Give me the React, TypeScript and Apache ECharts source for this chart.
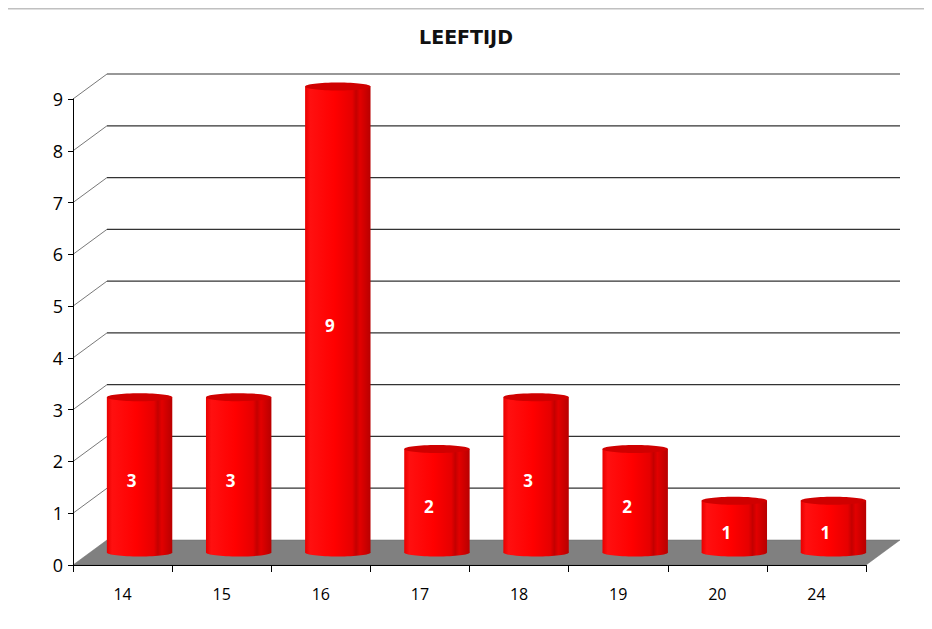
import React, { useEffect, useRef } from "react";
import * as echarts from "echarts";

const categories = ["14", "15", "16", "17", "18", "19", "20", "24"];
const counts = [3, 3, 9, 2, 3, 2, 1, 1];
const yTicks = [0, 1, 2, 3, 4, 5, 6, 7, 8, 9];
const chartTitle = "LEEFTIJD";

const DX = 34;
const DY = 25;
const FONT = "'Open Sans', 'DejaVu Sans', sans-serif";

export default function App() {
  const ref = useRef<HTMLDivElement>(null);
  useEffect(() => {
    if (!ref.current) return;
    const chart = echarts.init(ref.current, null, { renderer: "svg" });
    const n = categories.length;
    const option: any = {
      animation: false,
      backgroundColor: "#ffffff",
      title: {
        text: chartTitle,
        left: "center",
        top: 22,
        textStyle: { fontFamily: "'DejaVu Sans', sans-serif", fontSize: 19, fontWeight: "bold", color: "#111" },
      },
      graphic: [
        { type: "line", shape: { x1: 0, y1: 8.5, x2: 932, y2: 8.5 }, style: { stroke: "#c0c0c0", lineWidth: 2 } },
        { type: "line", shape: { x1: 1.5, y1: 8, x2: 1.5, y2: 629 }, style: { stroke: "#c0c0c0", lineWidth: 2 } },
      ],
      grid: { left: 73, right: 66, top: 99, bottom: 64 },
      xAxis: {
        type: "category",
        data: categories,
        boundaryGap: true,
        axisLine: { show: true, lineStyle: { color: "#000", width: 1 } },
        axisTick: { show: true, length: 7, lineStyle: { color: "#000" } },
        axisLabel: { margin: 21, fontFamily: FONT, fontSize: 16, color: "#000" },
        splitLine: { show: false },
        z: 10,
      },
      yAxis: {
        type: "value",
        min: 0,
        max: 9,
        interval: 1,
        axisLine: { show: true, lineStyle: { color: "#000", width: 1 } },
        axisTick: { show: true, length: 5, lineStyle: { color: "#000" } },
        axisLabel: { margin: 10, fontFamily: FONT, fontSize: 18, color: "#000" },
        splitLine: { show: false },
        z: 10,
      },
      series: [
        {
          type: "custom",
          name: "wall",
          z: 1,
          silent: true,
          encode: { x: 0, y: 1 },
          data: yTicks.map((v) => [0, v]),
          renderItem: (params: any, api: any) => {
            const v = api.value(1);
            const band = api.size([1, 0])[0];
            const p = api.coord([0, v]);
            const pr = api.coord([n - 1, v]);
            const left = p[0] - band / 2;
            const right = pr[0] + band / 2;
            const y = p[1];
            if (v === 0) {
              return {
                type: "polygon",
                shape: {
                  points: [
                    [left, y],
                    [left + DX, y - DY],
                    [right + DX, y - DY],
                    [right, y],
                  ],
                },
                style: { fill: "#808080", stroke: "#6a6a6a", lineWidth: 0.5 },
              };
            }
            return {
              type: "group",
              children: [
                {
                  type: "line",
                  shape: { x1: left, y1: y, x2: left + DX, y2: y - DY },
                  style: { stroke: "#555", lineWidth: 0.8 },
                },
                {
                  type: "line",
                  shape: { x1: left + DX, y1: y - DY, x2: right + DX, y2: y - DY },
                  style: { stroke: "#333", lineWidth: 1.2 },
                },
              ],
            };
          },
        },
        {
          type: "custom",
          name: "LEEFTIJD",
          z: 5,
          encode: { x: 0, y: 1 },
          data: counts.map((v, i) => [i, v]),
          renderItem: (params: any, api: any) => {
            const idx = api.value(0);
            const v = api.value(1);
            const band = api.size([1, 0])[0];
            const base = api.coord([idx, 0]);
            const top = api.coord([idx, v]);
            const w = band * 0.66;
            const cx = base[0] + DX / 2;
            const yb = base[1] - DY / 2;
            const yt = top[1] - DY / 2;
            const ry = 4;
            const grad = new echarts.graphic.LinearGradient(0, 0, 1, 0, [
              { offset: 0, color: "#e80000" },
              { offset: 0.08, color: "#ff1010" },
              { offset: 0.45, color: "#ff0000" },
              { offset: 0.72, color: "#e60000" },
              { offset: 0.78, color: "#c40000" },
              { offset: 0.84, color: "#e20000" },
              { offset: 1, color: "#b80000" },
            ]);
            return {
              type: "group",
              children: [
                {
                  type: "ellipse",
                  shape: { cx, cy: yb, rx: w / 2, ry },
                  style: { fill: grad },
                },
                {
                  type: "rect",
                  shape: { x: cx - w / 2, y: yt, width: w, height: yb - yt },
                  style: { fill: grad },
                },
                {
                  type: "ellipse",
                  shape: { cx, cy: yt, rx: w / 2, ry },
                  style: { fill: "#d00000" },
                },
                {
                  type: "text",
                  style: {
                    text: String(v),
                    x: cx - 8,
                    y: (yt + yb) / 2 + 6,
                    align: "center",
                    verticalAlign: "middle",
                    fill: "#ffffff",
                    font: `bold 17px ${FONT}`,
                  },
                },
              ],
            };
          },
        },
      ],
    };
    chart.setOption(option);
    return () => chart.dispose();
  }, []);
  return <div ref={ref} style={{ width: 932, height: 629, margin: -8 }} />;
}
